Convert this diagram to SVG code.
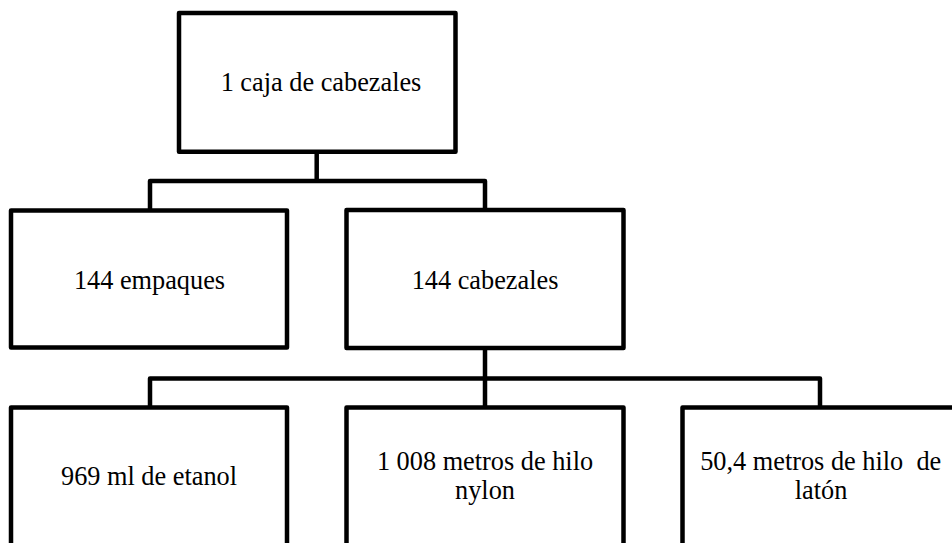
<svg xmlns="http://www.w3.org/2000/svg" width="952" height="543" viewBox="0 0 952 543">
<style>
.box{fill:#fff;stroke:#000;stroke-width:4.5;stroke-linejoin:round}
.con{fill:none;stroke:#000;stroke-width:4.5;stroke-linejoin:round}
.t{font-size:26.3px;fill:#000;text-anchor:middle;white-space:pre}
</style>
<rect width="952" height="543" fill="#fff"/>
<g id="connectors">
<path class="con" d="M316.7,152 V181 M150,210 V181 H485 V210"/>
<path class="con" d="M485,348 V407 M150,407 V378.5 H820 V407"/>
</g>
<g font-family="'Liberation Serif', 'DejaVu Serif', serif">
<g id="n-caja">
<rect class="box" x="179" y="13" width="276.5" height="138.7"/>
<text class="t" x="321" y="91">1 caja de cabezales</text>
</g>
<g id="n-empaques">
<rect class="box" x="11" y="210.5" width="276" height="137"/>
<text class="t" x="149.5" y="289">144 empaques</text>
</g>
<g id="n-cabezales">
<rect class="box" x="346.5" y="210" width="277" height="138"/>
<text class="t" x="485" y="289">144 cabezales</text>
</g>
<g id="n-etanol">
<rect class="box" x="11" y="407.5" width="276" height="160"/>
<text class="t" x="149" y="485">969 ml de etanol</text>
</g>
<g id="n-nylon">
<rect class="box" x="346.5" y="407.5" width="277" height="160"/>
<text class="t" x="485" y="470">1 008 metros de hilo</text>
<text class="t" x="485" y="498.5">nylon</text>
</g>
<g id="n-laton">
<rect class="box" x="682.5" y="407.5" width="277" height="160"/>
<text class="t" x="820.7" y="470">50,4 metros de hilo  de</text>
<text class="t" x="821" y="498.5">latón</text>
</g>
</g>
</svg>
